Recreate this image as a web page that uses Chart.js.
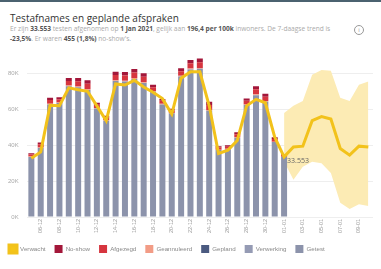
<!DOCTYPE html>
<html>
<head>
<meta charset="utf-8">
<script src="https://cdn.jsdelivr.net/npm/chart.js@4/dist/chart.umd.min.js"></script>
<style>
body { margin: 0; width: 381px; height: 269px; background: #fff; overflow: hidden; font-family: "Open Sans", sans-serif; position: relative; }
#topbar { position: absolute; left: 0; top: 0; width: 381px; height: 2px; background: #4b6270; }
#title { position: absolute; left: 10px; top: 11px; font-size: 10px; color: #333; }
#sub { position: absolute; left: 10px; top: 24px; width: 330px; font-size: 6.6px; line-height: 10px; color: #aaa; }
#sub b { color: #555; }
#info { position: absolute; left: 354px; top: 25px; width: 8px; height: 8px; border: 1px solid #999; border-radius: 50%; font-size: 6px; line-height: 8px; text-align: center; color: #999; }
#testChart { position: absolute; left: 0; top: 44px; }
</style>
</head>
<body>
<div id="topbar"></div>
<div id="title">Testafnames en geplande afspraken</div>
<div id="sub">Er zijn <b>33.553</b> testen afgenomen op <b>1 Jan 2021</b>, gelijk aan <b>196,4 per 100k</b> inwoners. De 7-daagse trend is <b>-23,5%</b>. Er waren <b>455 (1,8%)</b> no-show's.</div>
<div id="info">i</div>
<canvas id="testChart" width="381" height="219"></canvas>
<script>
const dates = ['05-12', '06-12', '07-12', '08-12', '09-12', '10-12', '11-12', '12-12', '13-12', '14-12',
    '15-12', '16-12', '17-12', '18-12', '19-12', '20-12', '21-12', '22-12', '23-12', '24-12',
    '25-12', '26-12', '27-12', '28-12', '29-12', '30-12', '31-12', '01-01', '02-01', '03-01',
    '04-01', '05-01', '06-01', '07-01', '08-01', '09-01', '10-01'];

const getest = [33500, 38500, 62800, 63500, 72900, 72300, 70800, 60500, 53700, 75800,
    75600, 77000, 74700, 69800, 62800, 57800, 78400, 82300, 82600, 59200,
    37300, 37800, 44200, 62500, 67900, 64300, 41800, 33553];
const verwerking = [0, 0, 0, 0, 0, 0, 0, 0, 0, 0, 0, 0, 0, 0, 0, 0, 0, 0, 0, 0, 0, 0, 0, 0, 0, 0, 0, 0];
const gepland = [0, 0, 0, 0, 0, 0, 0, 0, 0, 0, 0, 0, 0, 0, 0, 0, 0, 0, 0, 0, 0, 0, 0, 0, 0, 0, 0, 0];
const geannuleerd = [200, 300, 300, 300, 400, 500, 500, 300, 200, 500,
    400, 500, 500, 400, 300, 200, 400, 500, 500, 500,
    200, 200, 300, 300, 500, 400, 200, 100];
const afgezegd = [1200, 1700, 2100, 1900, 2600, 2900, 3000, 1800, 1500, 2900,
    2900, 3100, 3000, 2200, 1700, 1400, 2500, 2900, 3200, 2800,
    1200, 1200, 1700, 2000, 2800, 2400, 1500, 900];
const noShow = [700, 1100, 1300, 1100, 1600, 1800, 1900, 1100, 1000, 1800,
    1900, 1900, 1900, 1400, 1000, 900, 1600, 1800, 2100, 1800,
    800, 800, 1100, 1300, 1700, 1600, 1000, 455];

const verwacht = [32700, 36300, 62300, 62000, 72000, 71000, 70100, 62000, 53700, 74200,
    73600, 76200, 72500, 69600, 66000, 57400, 77400, 81000, 81000, 62000,
    35400, 37300, 42700, 62000, 65600, 63700, 44500, 33553, 39000, 39500,
    53700, 56000, 54600, 38200, 34500, 39500, 39000];
const bandHigh = [null, null, null, null, null, null, null, null, null, null,
    null, null, null, null, null, null, null, null, null, null,
    null, null, null, null, null, null, null, 58000, 62000, 64700,
    79300, 82000, 81500, 66500, 64700, 73800, 75600];
const bandLow = [null, null, null, null, null, null, null, null, null, null,
    null, null, null, null, null, null, null, null, null, null,
    null, null, null, null, null, null, null, 31000, 20800, 28000,
    30800, 30000, 24500, 8000, 4400, 7100, 6200];

const yTicks = [0, 20000, 40000, 60000, 80000];
const lastLabel = '33.553';

const legendRank = ['Verwacht', 'No-show', 'Afgezegd', 'Geannuleerd', 'Gepland', 'Verwerking', 'Getest'];

const lastValueLabel = {
    id: 'lastValueLabel',
    afterDatasetsDraw(chart) {
        const x = chart.scales.x.getPixelForValue(27);
        const y = chart.scales.y.getPixelForValue(verwacht[27]);
        const ctx = chart.ctx;
        ctx.save();
        ctx.font = '7px "Open Sans"';
        ctx.fillStyle = '#666';
        ctx.textBaseline = 'middle';
        ctx.fillText(lastLabel, x + 3, y + 4);
        ctx.restore();
    }
};

new Chart(document.getElementById('testChart'), {
    type: 'bar',
    data: {
        labels: dates,
        datasets: [
            { label: 'Getest', data: getest, backgroundColor: '#8c93ab', stack: 'bars', order: 3 },
            { label: 'Verwerking', data: verwerking, backgroundColor: '#959bb4', stack: 'bars', order: 3 },
            { label: 'Gepland', data: gepland, backgroundColor: '#4b5a80', stack: 'bars', order: 3 },
            { label: 'Geannuleerd', data: geannuleerd, backgroundColor: '#f29c86', stack: 'bars', order: 3 },
            { label: 'Afgezegd', data: afgezegd, backgroundColor: '#d6353f', stack: 'bars', order: 3 },
            { label: 'No-show', data: noShow, backgroundColor: '#a3173a', stack: 'bars', order: 3 },
            {
                type: 'line', label: 'Verwacht', data: verwacht, stack: 'line', order: 1,
                borderColor: '#f2c21b', backgroundColor: '#f5c518', borderWidth: 3,
                pointRadius: 0, tension: 0, fill: false
            },
            {
                type: 'line', label: 'laag', data: bandLow, stack: 'lo', order: 5,
                borderWidth: 0, pointRadius: 0, fill: false, borderColor: 'rgba(0,0,0,0)'
            },
            {
                type: 'line', label: 'hoog', data: bandHigh, stack: 'hi', order: 5,
                borderWidth: 0, pointRadius: 0, fill: '-1', borderColor: 'rgba(0,0,0,0)',
                backgroundColor: '#fcebb4'
            }
        ]
    },
    options: {
        responsive: false,
        animation: false,
        layout: { padding: { left: 0, right: 8, top: 4, bottom: 0 } },
        datasets: { bar: { barPercentage: 0.64, categoryPercentage: 1 } },
        plugins: {
            legend: {
                position: 'bottom',
                align: 'start',
                labels: {
                    boxWidth: 8,
                    boxHeight: 8,
                    padding: 9,
                    color: '#888',
                    font: { size: 6.2 },
                    filter: item => legendRank.includes(item.text),
                    sort: (a, b) => legendRank.indexOf(a.text) - legendRank.indexOf(b.text)
                }
            },
            tooltip: { enabled: false }
        },
        scales: {
            x: {
                stacked: true,
                grid: { display: false, drawTicks: false },
                border: { display: false },
                afterFit: axis => { axis.height = 19; },
                ticks: {
                    autoSkip: false,
                    maxRotation: 90,
                    minRotation: 90,
                    color: '#999',
                    font: { size: 5.5 },
                    padding: 2,
                    callback: function (value, index) {
                        return index % 2 === 1 ? this.getLabelForValue(value) : '';
                    }
                }
            },
            y: {
                stacked: true,
                min: 0,
                max: 90000,
                afterBuildTicks: axis => { axis.ticks = yTicks.map(v => ({ value: v })); },
                grid: { color: '#eeeeee', drawTicks: false },
                border: { display: false },
                ticks: {
                    color: '#aaa',
                    font: { size: 6 },
                    padding: 8,
                    callback: v => (v / 1000) + 'K'
                }
            }
        }
    },
    plugins: [lastValueLabel]
});
</script>
</body>
</html>
